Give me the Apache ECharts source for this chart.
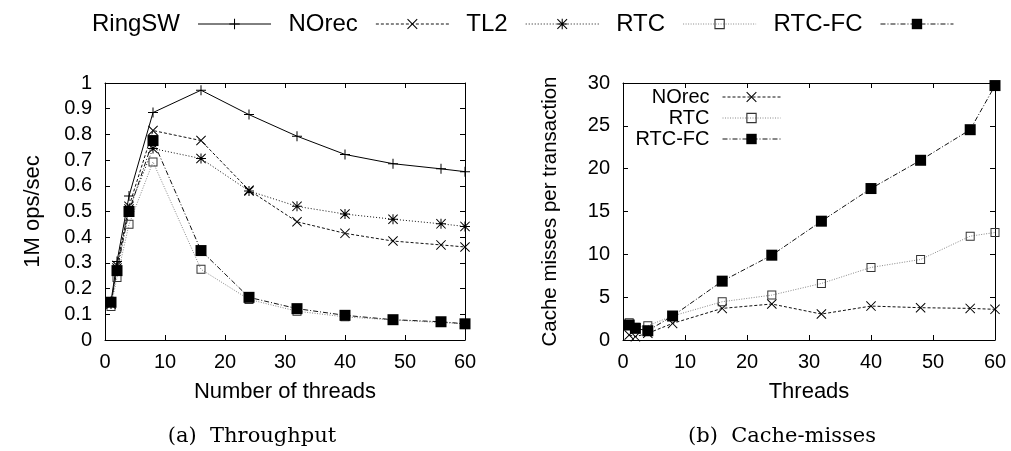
<!DOCTYPE html>
<html>
<head>
<meta charset="utf-8">
<script src="https://cdn.jsdelivr.net/npm/echarts@6/dist/echarts.min.js"></script>
<style>
  html, body { margin: 0; padding: 0; background: #fff; }
  #main { width: 1011px; height: 451px; }
</style>
</head>
<body>
<div id="main"></div>
<script>
// thread counts on the x axis (both panels)
var threads = [1, 2, 4, 8, 16, 24, 32, 40, 48, 56, 60];

// (a) throughput, 1M ops/sec
var ringswTput = [0.15, 0.305, 0.56, 0.885, 0.972, 0.877, 0.793, 0.722, 0.686, 0.666, 0.655];
var norecTput = [0.14, 0.29, 0.52, 0.815, 0.776, 0.583, 0.46, 0.415, 0.385, 0.37, 0.362];
var tl2Tput = [0.14, 0.28, 0.51, 0.745, 0.706, 0.58, 0.52, 0.49, 0.47, 0.452, 0.442];
var rtcTput = [0.13, 0.243, 0.45, 0.693, 0.275, 0.158, 0.112, 0.09, 0.078, 0.068, 0.063];
var rtcfcTput = [0.147, 0.27, 0.5, 0.776, 0.348, 0.166, 0.122, 0.096, 0.079, 0.071, 0.063];

// (b) cache misses per transaction
var norecMiss = [0.58, 0.39, 0.78, 1.94, 3.69, 4.2, 3.03, 3.96, 3.77, 3.69, 3.58];
var rtcMiss = [2.0, 1.5, 1.67, 2.8, 4.47, 5.24, 6.6, 8.47, 9.4, 12.12, 12.55];
var rtcfcMiss = [1.75, 1.36, 1.08, 2.8, 6.87, 9.9, 13.87, 17.68, 20.98, 24.55, 29.7];

var seriesNames = ['RingSW', 'NOrec', 'TL2', 'RTC', 'RTC-FC'];

// gnuplot style point shapes
var symPlus = 'path://M0,4.5H4.5V0H5.5V4.5H10V5.5H5.5V10H4.5V5.5H0Z';
var symCross = 'path://M0,0.7L0.7,0L5,4.3L9.3,0L10,0.7L5.7,5L10,9.3L9.3,10L5,5.7L0.7,10L0,9.3L4.3,5Z';
var symStar = symCross + 'M0,4.5H4.5V0H5.5V4.5H10V5.5H5.5V10H4.5V5.5H0Z';
var symBox = 'path://M0,0H10V10H0ZM1.1,1.1V8.9H8.9V1.1Z';

var styles = {
    'RingSW': {symbol: symPlus, size: 10, line: {color: '#000', width: 1, type: 'solid'}, item: '#000'},
    'NOrec': {symbol: symCross, size: 10, line: {color: '#111', width: 1, type: [3, 2]}, item: '#000'},
    'TL2': {symbol: symStar, size: 10, line: {color: '#111', width: 1, type: [1, 2]}, item: '#000'},
    'RTC': {symbol: symBox, size: 9, line: {color: '#888', width: 1, type: [1, 1.5]}, item: '#333'},
    'RTC-FC': {symbol: 'rect', size: 11, line: {color: '#111', width: 1, type: [5, 2, 1, 2]}, item: '#000'}
};

function pairs(ys) {
    return threads.map(function (t, i) { return [t, ys[i]]; });
}

function makeSeries(name, ys, gi) {
    var s = styles[name];
    return {
        name: name,
        type: 'line',
        xAxisIndex: gi * 2,
        yAxisIndex: gi * 2,
        data: pairs(ys),
        symbol: s.symbol,
        symbolSize: s.size,
        showAllSymbol: true,
        lineStyle: s.line,
        itemStyle: {color: s.item},
        emphasis: {disabled: true}
    };
}

var font = 'Liberation Sans';
var axisLine = {show: true, onZero: false, lineStyle: {color: '#000', width: 1}};
var tickIn = {show: true, inside: true, length: 5, lineStyle: {color: '#000'}};

function mainX(gi, name) {
    return {
        type: 'value', gridIndex: gi, position: 'bottom', min: 0, max: 60, interval: 10,
        axisLine: axisLine, axisTick: tickIn, splitLine: {show: false},
        axisLabel: {fontSize: 20, fontFamily: font, color: '#000', margin: 12},
        name: name, nameLocation: 'middle', nameGap: 41,
        nameTextStyle: {fontSize: 22, fontFamily: font, color: '#000'}
    };
}
function mirrorX(gi) {
    return {
        type: 'value', gridIndex: gi, position: 'top', min: 0, max: 60, interval: 10,
        axisLine: axisLine, axisTick: tickIn, splitLine: {show: false}, axisLabel: {show: false}
    };
}
function mainY(gi, max, step, name, gap, nameSize) {
    return {
        type: 'value', gridIndex: gi, position: 'left', min: 0, max: max, interval: step,
        axisLine: axisLine, axisTick: tickIn, splitLine: {show: false},
        axisLabel: {fontSize: 20, fontFamily: font, color: '#000', margin: 13},
        name: name, nameLocation: 'middle', nameGap: gap, nameRotate: 90,
        nameTextStyle: {fontSize: nameSize, fontFamily: font, color: '#000'}
    };
}
function mirrorY(gi, max, step) {
    return {
        type: 'value', gridIndex: gi, position: 'right', min: 0, max: max, interval: step,
        axisLine: axisLine, axisTick: tickIn, splitLine: {show: false}, axisLabel: {show: false}
    };
}

var option = {
    animation: false,
    backgroundColor: '#fff',
    grid: [
        // (a) throughput
        {left: 105, top: 83, width: 360, height: 257, outerBoundsMode: 'none'},
        // (b) cache misses
        {left: 623, top: 83, width: 372, height: 257, outerBoundsMode: 'none'}
    ],
    xAxis: [mainX(0, 'Number of threads'), mirrorX(0), mainX(1, 'Threads'), mirrorX(1)],
    yAxis: [
        mainY(0, 1, 0.1, '1M ops/sec', 61, 22), mirrorY(0, 1, 0.1),
        mainY(1, 30, 5, 'Cache misses per transaction', 62, 20.5), mirrorY(1, 30, 5)
    ],
    legend: [
        {
            data: seriesNames,
            orient: 'horizontal',
            align: 'right',
            left: 92, top: 12, padding: 0,
            itemWidth: 73, itemHeight: 13, itemGap: 17,
            lineStyle: {width: 1},
            textStyle: {fontSize: 24, fontFamily: font, color: '#000', padding: [0, 13, 0, 0]},
            selectedMode: false
        },
        {
            data: ['NOrec', 'RTC', 'RTC-FC'],
            orient: 'vertical',
            align: 'right',
            right: 230, top: 87, padding: 0,
            itemWidth: 58, itemHeight: 13, itemGap: 1,
            lineStyle: {width: 1},
            textStyle: {fontSize: 20, fontFamily: font, color: '#000', padding: [0, 8, 0, 0]},
            selectedMode: false
        }
    ],
    graphic: [
        {type: 'text', x: 252, y: 437, style: {text: '(a)  Throughput', fontSize: 21, fontFamily: 'DejaVu Serif', fill: '#000', align: 'center', verticalAlign: 'middle'}},
        {type: 'text', x: 782, y: 437, style: {text: '(b)  Cache-misses', fontSize: 21, fontFamily: 'DejaVu Serif', fill: '#000', align: 'center', verticalAlign: 'middle'}}
    ],
    series: [
        makeSeries('RingSW', ringswTput, 0),
        makeSeries('NOrec', norecTput, 0),
        makeSeries('TL2', tl2Tput, 0),
        makeSeries('RTC', rtcTput, 0),
        makeSeries('RTC-FC', rtcfcTput, 0),
        makeSeries('NOrec', norecMiss, 1),
        makeSeries('RTC', rtcMiss, 1),
        makeSeries('RTC-FC', rtcfcMiss, 1)
    ]
};

var chart = echarts.init(document.getElementById('main'), null, {renderer: 'canvas'});
chart.setOption(option);
</script>
</body>
</html>
